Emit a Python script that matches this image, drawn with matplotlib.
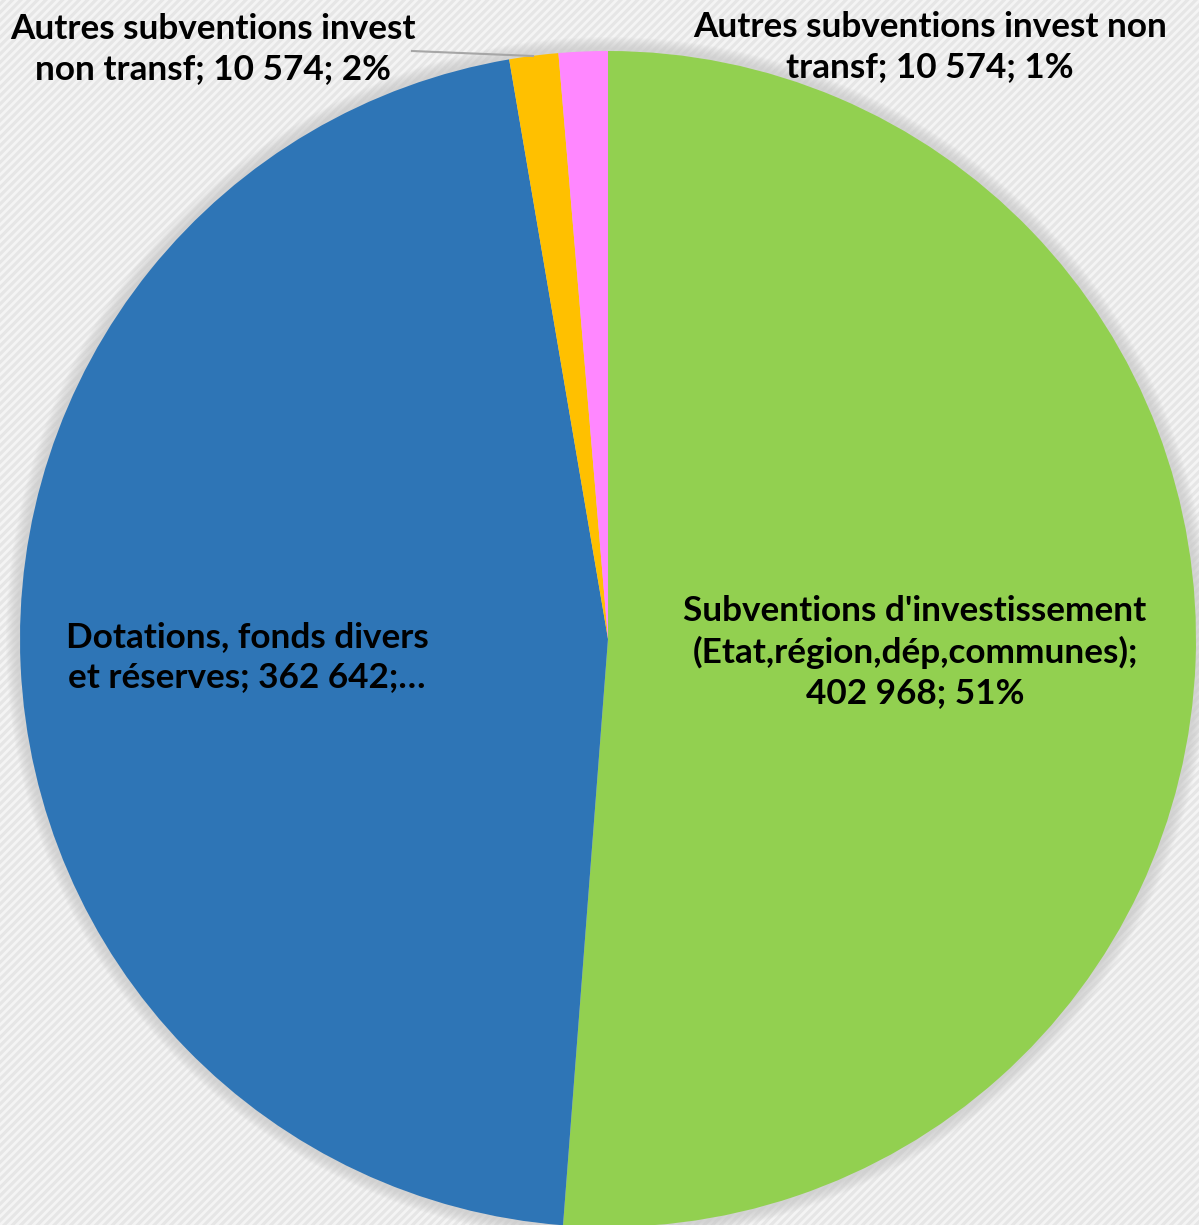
import matplotlib.pyplot as plt
from matplotlib.patches import Rectangle, Circle

# data
categories = ["Subventions d'investissement (Etat,région,dép,communes)",
              "Dotations, fonds divers et réserves",
              "Autres subventions invest non transf",
              "Autres subventions invest non transf"]
values = [402968, 362642, 10574, 10574]
colors = ["#92d050", "#2e75b6", "#ffc000", "#ff87ff"]
label_texts = ["Subventions d'investissement\n(Etat,région,dép,communes);\n402 968; 51%",
               "Dotations, fonds divers\net réserves; 362 642;…",
               "Autres subventions invest\nnon transf; 10 574; 2%",
               "Autres subventions invest non\ntransf; 10 574; 1%"]

plt.rcParams["hatch.linewidth"] = 2.0

W, H = 1199, 1225
fig = plt.figure(figsize=(W / 100, H / 100), dpi=100)
ax = fig.add_axes([0, 0, 1, 1])
ax.set_xlim(0, W)
ax.set_ylim(0, H)
ax.set_aspect("equal")
ax.axis("off")

# hatched light background
ax.add_patch(Rectangle((0, 0), W, H, facecolor="#e6e6e6", edgecolor="#f4f4f4",
                       hatch="////", linewidth=0, zorder=0))

cx, cy, r = 608, H - 639, 588

# soft shadow around the pie
for i in range(12):
    ax.add_patch(Circle((cx, cy), r + 14 - i, facecolor="#c8c8c8",
                        edgecolor="none", alpha=0.08, zorder=1))

wedges, _ = ax.pie(values, colors=colors, startangle=90, counterclock=False,
                   center=(cx, cy), radius=r, frame=True,
                   wedgeprops=dict(linewidth=0, zorder=2))
for w in wedges:
    w.set_zorder(2)
ax.set_xlim(0, W)
ax.set_ylim(0, H)
ax.axis("off")

font = dict(family=["Lato", "DejaVu Sans"], fontweight="bold", fontsize=25.3,
            color="black", ha="center", va="center", linespacing=1.33, zorder=5)
ax.text(915, H - 652, label_texts[0], **font)
ax.text(247, H - 657, label_texts[1], **font)
ax.text(213, H - 49, label_texts[2], **font)
ax.text(930, H - 47, label_texts[3], **font)

# leader line for the orange slice
ax.plot([412, 533], [H - 51, H - 56], color="#a6a6a6", linewidth=1.5, zorder=4)

fig.savefig("out.png", dpi=100)
